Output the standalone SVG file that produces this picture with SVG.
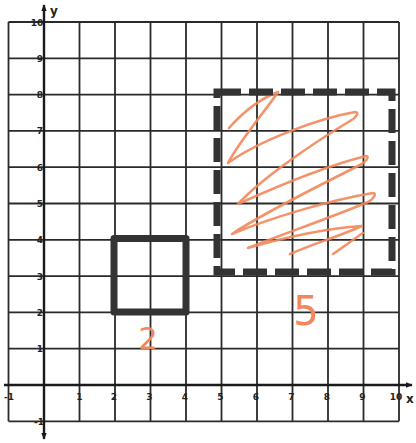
<svg xmlns="http://www.w3.org/2000/svg" width="416" height="443" viewBox="0 0 416 443">
<defs>
<style>
.grid line{stroke:#2a2a2a;stroke-width:1.8}
.axis{stroke:#1a1a1a;stroke-width:2.4;fill:none}
.tick{font-family:"DejaVu Sans",sans-serif;font-size:9px;font-weight:bold;fill:#222;text-anchor:middle}
.lbl{font-family:"DejaVu Sans",sans-serif;font-size:12px;font-weight:bold;fill:#222}
.hand{font-family:"DejaVu Sans",sans-serif;fill:#F3875A;text-anchor:middle}
</style>
<marker id="ah" viewBox="0 0 10 10" refX="9" refY="5" markerWidth="7" markerHeight="7" orient="auto-start-reverse" markerUnits="userSpaceOnUse">
<path d="M0,1 L10,5 L0,9 Z" fill="#1a1a1a"/>
</marker>
</defs>
<rect width="416" height="443" fill="#ffffff"/>
<g id="grid" class="grid">
<line x1="8.5" y1="22" x2="8.5" y2="421.3"/>
<line x1="79.5" y1="22" x2="79.5" y2="421.3"/>
<line x1="115" y1="22" x2="115" y2="421.3"/>
<line x1="150.5" y1="22" x2="150.5" y2="421.3"/>
<line x1="186" y1="22" x2="186" y2="421.3"/>
<line x1="221.5" y1="22" x2="221.5" y2="421.3"/>
<line x1="257" y1="22" x2="257" y2="421.3"/>
<line x1="292.5" y1="22" x2="292.5" y2="421.3"/>
<line x1="328" y1="22" x2="328" y2="421.3"/>
<line x1="363.5" y1="22" x2="363.5" y2="421.3"/>
<line x1="399" y1="22" x2="399" y2="421.3"/>
<line x1="8.5" y1="22" x2="399" y2="22"/>
<line x1="8.5" y1="58.3" x2="399" y2="58.3"/>
<line x1="8.5" y1="94.6" x2="399" y2="94.6"/>
<line x1="8.5" y1="130.9" x2="399" y2="130.9"/>
<line x1="8.5" y1="167.2" x2="399" y2="167.2"/>
<line x1="8.5" y1="203.5" x2="399" y2="203.5"/>
<line x1="8.5" y1="239.8" x2="399" y2="239.8"/>
<line x1="8.5" y1="276.1" x2="399" y2="276.1"/>
<line x1="8.5" y1="312.4" x2="399" y2="312.4"/>
<line x1="8.5" y1="348.7" x2="399" y2="348.7"/>
<line x1="8.5" y1="421.3" x2="399" y2="421.3"/>
</g>
<g id="axes">
<line class="axis" x1="44" y1="421" x2="44" y2="439" marker-end="url(#ah)"/>
<line class="axis" x1="44" y1="421" x2="44" y2="5" marker-end="url(#ah)"/>
<line class="axis" x1="4" y1="385" x2="412" y2="385" marker-end="url(#ah)"/>
<text class="lbl" x="50" y="15">y</text>
<text class="lbl" x="406" y="403">x</text>
</g>
<g id="ticks" class="tick">
<text x="37" y="26">10</text>
<text x="40" y="62">9</text>
<text x="40" y="98">8</text>
<text x="40" y="134">7</text>
<text x="40" y="171">6</text>
<text x="40" y="207">5</text>
<text x="40" y="243">4</text>
<text x="40" y="280">3</text>
<text x="40" y="316">2</text>
<text x="40" y="352">1</text>
<text x="39" y="425">-1</text>
<text x="9" y="400">-1</text>
<text x="79.5" y="400">1</text>
<text x="114" y="400">2</text>
<text x="149.5" y="400">3</text>
<text x="185" y="400">4</text>
<text x="220.5" y="400">5</text>
<text x="256" y="400">6</text>
<text x="291.5" y="400">7</text>
<text x="327" y="400">8</text>
<text x="362.5" y="400">9</text>
<text x="396" y="400">10</text>
</g>
<g id="scribble">
<path d="M229,128 C245,110 262,98 278,92 C270,105 240,140 228,163 C260,140 320,118 355,112 C360,112 356,118 350,121 C310,145 260,180 238,204 C280,185 330,165 366,156 C370,156 366,162 360,165 C320,185 260,215 232,234 C270,218 330,200 373,193 C377,193 374,199 368,202 C330,218 280,235 248,248 C290,236 330,228 362,226 C340,236 310,245 290,254 M333,254 C345,246 355,238 363,233" fill="none" stroke="#F3875A" stroke-width="2.6" stroke-linejoin="round" stroke-linecap="round" opacity="0.9"/>
</g>
<g id="small-square">
<rect x="114" y="238.5" width="72" height="73.5" fill="none" stroke="#333333" stroke-width="7" stroke-linejoin="round"/>
</g>
<g id="dashed-square">
<rect x="217" y="92" width="175" height="180" fill="none" stroke="#333333" stroke-width="7" stroke-dasharray="24 8"/>
</g>
<g id="labels">
<text class="hand" x="148" y="349" font-size="30">2</text>
<text class="hand" x="306" y="325" font-size="40">5</text>
</g>
</svg>
